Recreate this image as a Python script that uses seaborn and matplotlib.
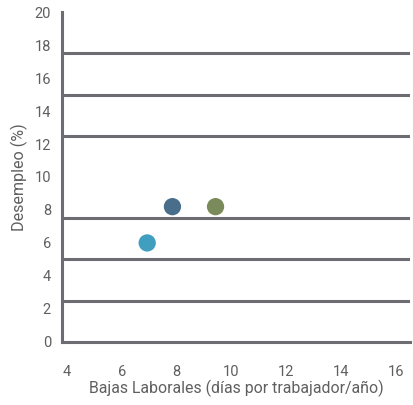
import matplotlib
matplotlib.use("Agg")
import matplotlib.pyplot as plt
import seaborn as sns
import pandas as pd
import numpy as np

# Data
paises = ["A", "B", "C"]
bajas = [7.85, 9.42, 6.93]
desempleo = [8.2, 8.2, 6.0]
colores = ["#486e8c", "#7b8a5a", "#409fbf"]
x_ticks = [4, 6, 8, 10, 12, 14, 16]
y_ticks = [0, 2, 4, 6, 8, 10, 12, 14, 16, 18, 20]
y_grid = [2.5, 5, 7.5, 10, 12.5, 15, 17.5]

sns.set_theme(style="white")
plt.rcParams['font.family'] = ['Roboto', 'DejaVu Sans']

df = pd.DataFrame({"pais": paises, "x": bajas, "y": desempleo})

fig = plt.figure(figsize=(4.14, 4.05), dpi=100)
ax = fig.add_axes([0.150, 0.156, 0.840, 0.814])

sns.scatterplot(data=df, x="x", y="y", hue="pais", palette=colores,
                s=155, edgecolor="none", legend=False, ax=ax, zorder=5)

gray = "#6d6c72"
txt = "#5f5f5f"
ax.set_xlim(3.83, 16.5)
ax.set_ylim(0, 20)
ax.set_xticks(x_ticks)
ax.set_yticks(y_ticks)
ax.set_yticks(y_grid, minor=True)
ax.yaxis.grid(True, which="minor", color=gray, linewidth=2.2)
ax.yaxis.grid(False, which="major")
ax.xaxis.grid(False)
ax.set_axisbelow(True)

for s in ["top", "right"]:
    ax.spines[s].set_visible(False)
for s in ["left", "bottom"]:
    ax.spines[s].set_color(gray)
    ax.spines[s].set_linewidth(2.2)

ax.tick_params(axis="both", which="both", length=0, labelsize=10.5,
               labelcolor=txt)
ax.tick_params(axis="x", pad=17)
ax.tick_params(axis="y", pad=8)

ax.set_xlabel("Bajas Laborales (días por trabajador/año)", fontsize=11.4,
              color=txt, labelpad=0.5)
ax.set_ylabel("Desempleo (%)", fontsize=11.6, color=txt, labelpad=4.5)

fig.savefig("out.png", dpi=100)
